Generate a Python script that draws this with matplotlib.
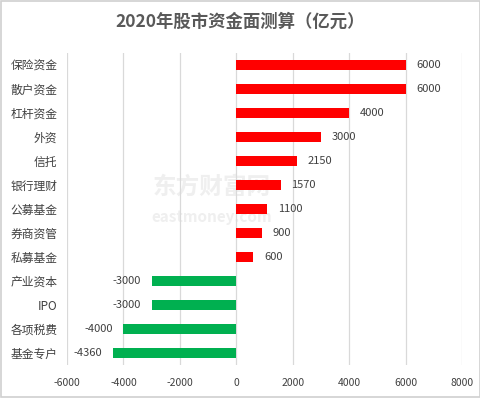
import matplotlib
matplotlib.use('Agg')
import matplotlib.pyplot as plt
from matplotlib.patches import Rectangle

plt.rcParams['font.family'] = ['Noto Sans CJK SC', 'DejaVu Sans']

# Data (亿元)
categories = ['保险资金', '散户资金', '杠杆资金', '外资', '信托', '银行理财', '公募基金',
              '券商资管', '私募基金', '产业资本', 'IPO', '各项税费', '基金专户']
values = [6000, 6000, 4000, 3000, 2150, 1570, 1100, 900, 600, -3000, -3000, -4000, -4360]
x_ticks = [-6000, -4000, -2000, 0, 2000, 4000, 6000, 8000]

red = '#FF0000'
green = '#00B050'
text_color = '#404040'

fig = plt.figure(figsize=(4.81, 3.98), dpi=100)
ax = fig.add_axes([67 / 481, 33 / 398, 395 / 481, 312 / 398])
ax.patch.set_alpha(0)

ypos = list(range(len(categories)))
colors = [red if v > 0 else green for v in values]
ax.barh(ypos, values, height=0.38, color=colors, zorder=3)

for y, v in zip(ypos, values):
    if v > 0:
        ax.text(v + 380, y, str(v), va='center', ha='left', fontsize=8, color=text_color, zorder=4)
    else:
        ax.text(v - 380, y, str(v), va='center', ha='right', fontsize=8, color=text_color, zorder=4)

ax.set_xlim(-6000, 8000)
ax.set_ylim(len(categories) - 0.5, -0.5)
ax.set_xticks(x_ticks)
ax.set_xticklabels([str(t) for t in x_ticks], fontsize=7.5, color=text_color)
ax.set_yticks(ypos)
ax.set_yticklabels(categories, fontsize=8.5, color=text_color)
ax.tick_params(axis='both', length=0)
ax.tick_params(axis='x', pad=9)
ax.tick_params(axis='y', pad=7)
ax.xaxis.grid(True, color='#d9d9d9', linewidth=0.9, zorder=0)
ax.set_axisbelow(True)
for s in ax.spines.values():
    s.set_visible(False)

# watermark, drawn behind the axes
fig.text(0.44, 0.53, '东方财富网', fontsize=17, fontweight='bold', color='#efefef',
         ha='center', va='center', zorder=-1)
fig.text(0.44, 0.455, 'eastmoney.com', fontsize=11, fontweight='bold', color='#efefef',
         ha='center', va='center', zorder=-1)

fig.text(0.5, 0.945, '2020年股市资金面测算（亿元）', fontsize=12.5, fontweight='bold',
         color='#595959', ha='center', va='center')

# outer frame
fig.patches.append(Rectangle((0.002, 0.002), 0.996, 0.996, transform=fig.transFigure,
                             fill=False, edgecolor='#d0d0d0', linewidth=1.2))

fig.savefig('out.png', dpi=100)
